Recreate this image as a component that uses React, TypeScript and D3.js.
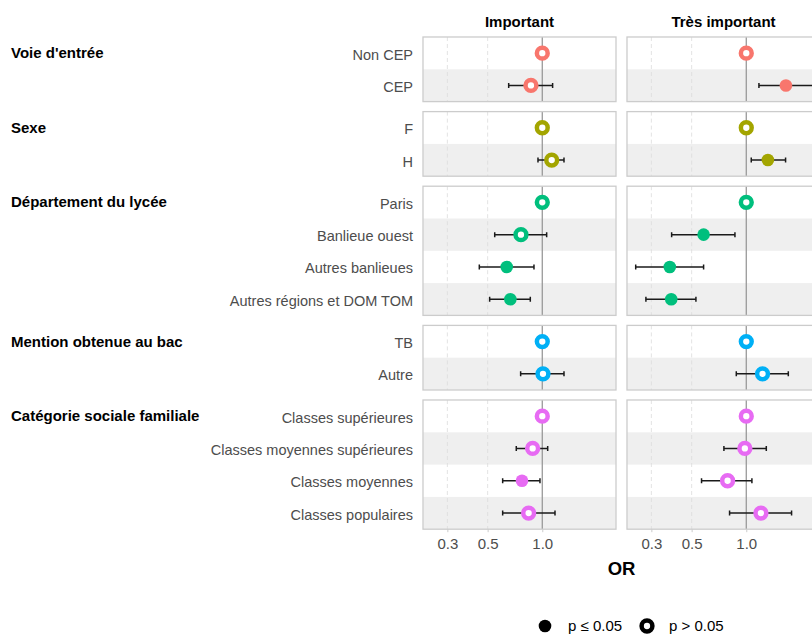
import { useEffect, useRef } from "react";
import * as d3 from "d3";

// Groups and their categories (first one is the reference level)
const groups = [
  "Voie d'entrée",
  "Sexe",
  "Département du lycée",
  "Mention obtenue au bac",
  "Catégorie sociale familiale",
];
const categories = [
  ["Non CEP", "CEP"],
  ["F", "H"],
  ["Paris", "Banlieue ouest", "Autres banlieues", "Autres régions et DOM TOM"],
  ["TB", "Autre"],
  ["Classes supérieures", "Classes moyennes supérieures", "Classes moyennes", "Classes populaires"],
];
const groupColors = ["#F8766D", "#A3A500", "#00BF7D", "#00B0F6", "#E76BF3"];

const facets = ["Important", "Très important"];

// OR, lower CI, upper CI, significant (p <= 0.05) -- flattened by row
const orImportant = [1, 0.866, 1, 1.127, 1, 0.763, 0.637, 0.667, 1, 1.009, 1, 0.885, 0.773, 0.841];
const lowImportant = [null, 0.653, null, 0.947, null, 0.547, 0.45, 0.513, null, 0.76, null, 0.719, 0.605, 0.605];
const highImportant = [null, 1.14, null, 1.317, null, 1.057, 0.9, 0.859, null, 1.317, null, 1.071, 0.971, 1.175];
const sigImportant = [false, false, false, false, false, false, true, true, false, false, false, false, true, false];

const orTres = [1, 1.653, 1, 1.315, 1, 0.582, 0.379, 0.386, 1, 1.229, 1, 0.982, 0.789, 1.204];
const lowTres = [null, 1.174, null, 1.065, null, 0.388, 0.246, 0.28, null, 0.881, null, 0.753, 0.567, 0.809];
const highTres = [null, 2.45, null, 1.646, null, 0.866, 0.582, 0.528, null, 1.704, null, 1.289, 1.074, 1.776];
const sigTres = [false, true, false, true, false, true, true, true, false, false, false, false, false, false];

const xTicks = [0.3, 0.5, 1.0];

const App = () => {
  const ref = useRef<SVGSVGElement | null>(null);

  useEffect(() => {
    if (!ref.current) return;
    const svg = d3.select(ref.current).html("");
    const font = "'Liberation Sans', Arial, sans-serif";

    const panelLeft = [423, 627];
    const panelW = 193;
    const top0 = 37;
    const rowH = 32.3;
    const gap = 10;

    const x = d3.scaleLog().domain([0.2203, 2.547]).range([0, panelW]);

    const facetData = [
      { or: orImportant, low: lowImportant, high: highImportant, sig: sigImportant },
      { or: orTres, low: lowTres, high: highTres, sig: sigTres },
    ];

    const clip = svg.append("defs");

    // strip titles
    facets.forEach((f, fi) => {
      svg.append("text")
        .attr("x", panelLeft[fi] + panelW / 2)
        .attr("y", 27)
        .attr("text-anchor", "middle")
        .style("font-family", font)
        .style("font-size", "15px")
        .style("font-weight", "bold")
        .text(f);
    });

    let top = top0;
    let rowIdx = 0;
    groups.forEach((g, gi) => {
      const cats = categories[gi];
      const h = cats.length * rowH;
      const y = d3.scaleBand().domain(cats).range([top, top + h]);

      // group title
      svg.append("text")
        .attr("x", 11)
        .attr("y", (y(cats[0]) as number) + y.bandwidth() / 2 + 5)
        .style("font-family", font)
        .style("font-size", "15px")
        .style("font-weight", "bold")
        .text(g);

      // category labels
      cats.forEach((c) => {
        svg.append("text")
          .attr("x", 413)
          .attr("y", (y(c) as number) + y.bandwidth() / 2 + 6.5)
          .attr("text-anchor", "end")
          .attr("fill", "#4d4d4d")
          .style("font-family", font)
          .style("font-size", "14.5px")
          .text(c);
      });

      facetData.forEach((fd, fi) => {
        const clipId = `clip-${gi}-${fi}`;
        clip.append("clipPath").attr("id", clipId)
          .append("rect")
          .attr("x", 0).attr("y", top).attr("width", panelW).attr("height", h);

        const p = svg.append("g").attr("transform", `translate(${panelLeft[fi]},0)`);
        const inner = p.append("g").attr("clip-path", `url(#${clipId})`);

        // alternating bands
        cats.forEach((c, ci) => {
          if (ci % 2 === 1) {
            inner.append("rect")
              .attr("x", 0).attr("y", y(c) as number)
              .attr("width", panelW).attr("height", y.bandwidth())
              .attr("fill", "#efefef");
          }
        });

        // grid
        [0.3, 0.5].forEach((t) => {
          inner.append("line")
            .attr("x1", x(t)).attr("x2", x(t))
            .attr("y1", top).attr("y2", top + h)
            .attr("stroke", "#dcdcdc").attr("stroke-width", 0.8)
            .attr("stroke-dasharray", "4,3");
        });
        inner.append("line")
          .attr("x1", x(1)).attr("x2", x(1))
          .attr("y1", top).attr("y2", top + h)
          .attr("stroke", "#999999").attr("stroke-width", 1.3);

        cats.forEach((c, ci) => {
          const k = rowIdx + ci;
          const cy = (y(c) as number) + y.bandwidth() / 2;
          const lo = fd.low[k];
          const hi = fd.high[k];
          if (lo != null && hi != null) {
            inner.append("line")
              .attr("x1", x(lo)).attr("x2", x(hi))
              .attr("y1", cy).attr("y2", cy)
              .attr("stroke", "#1a1a1a").attr("stroke-width", 1.5);
            [lo, hi].forEach((v) => {
              inner.append("line")
                .attr("x1", x(v)).attr("x2", x(v))
                .attr("y1", cy - 2.5).attr("y2", cy + 2.5)
                .attr("stroke", "#1a1a1a").attr("stroke-width", 1.5);
            });
          }
          if (fd.sig[k]) {
            inner.append("circle")
              .attr("cx", x(fd.or[k])).attr("cy", cy).attr("r", 6.3)
              .attr("fill", groupColors[gi]);
          } else {
            inner.append("circle")
              .attr("cx", x(fd.or[k])).attr("cy", cy).attr("r", 5.4)
              .attr("fill", "white")
              .attr("stroke", groupColors[gi]).attr("stroke-width", 4.5);
          }
        });

        // border
        p.append("rect")
          .attr("x", 0).attr("y", top).attr("width", panelW).attr("height", h)
          .attr("fill", "none").attr("stroke", "#cccccc").attr("stroke-width", 1.3);
      });

      rowIdx += cats.length;
      top += h + gap;
    });

    const bottom = top - gap;

    // x axis
    facetData.forEach((_, fi) => {
      const ax = svg.append("g")
        .attr("transform", `translate(${panelLeft[fi]},${bottom})`)
        .call(d3.axisBottom(x).tickValues(xTicks).tickFormat(d3.format(".1f")).tickSize(3).tickPadding(6.5));
      ax.select(".domain").remove();
      ax.selectAll(".tick line").attr("stroke", "#cccccc");
      ax.selectAll(".tick text")
        .attr("fill", "#4d4d4d")
        .style("font-family", font)
        .style("font-size", "15px");
    });

    svg.append("text")
      .attr("x", (panelLeft[0] + panelLeft[1] + panelW) / 2)
      .attr("y", 575)
      .attr("text-anchor", "middle")
      .style("font-family", font)
      .style("font-size", "18.5px")
      .style("font-weight", "bold")
      .text("OR");

    // legend
    const lg = svg.append("g").style("font-family", font).style("font-size", "15px");
    lg.append("circle").attr("cx", 545).attr("cy", 626).attr("r", 6.3).attr("fill", "black");
    lg.append("text").attr("x", 568).attr("y", 631).text("p ≤ 0.05");
    lg.append("circle").attr("cx", 647).attr("cy", 626).attr("r", 5.4)
      .attr("fill", "white").attr("stroke", "black").attr("stroke-width", 4.5);
    lg.append("text").attr("x", 669).attr("y", 631).text("p > 0.05");
  }, []);

  return (
    <svg
      ref={ref}
      width={812}
      height={635}
      style={{ position: "absolute", left: 0, top: 0, background: "white" }}
    ></svg>
  );
};

export default App;
